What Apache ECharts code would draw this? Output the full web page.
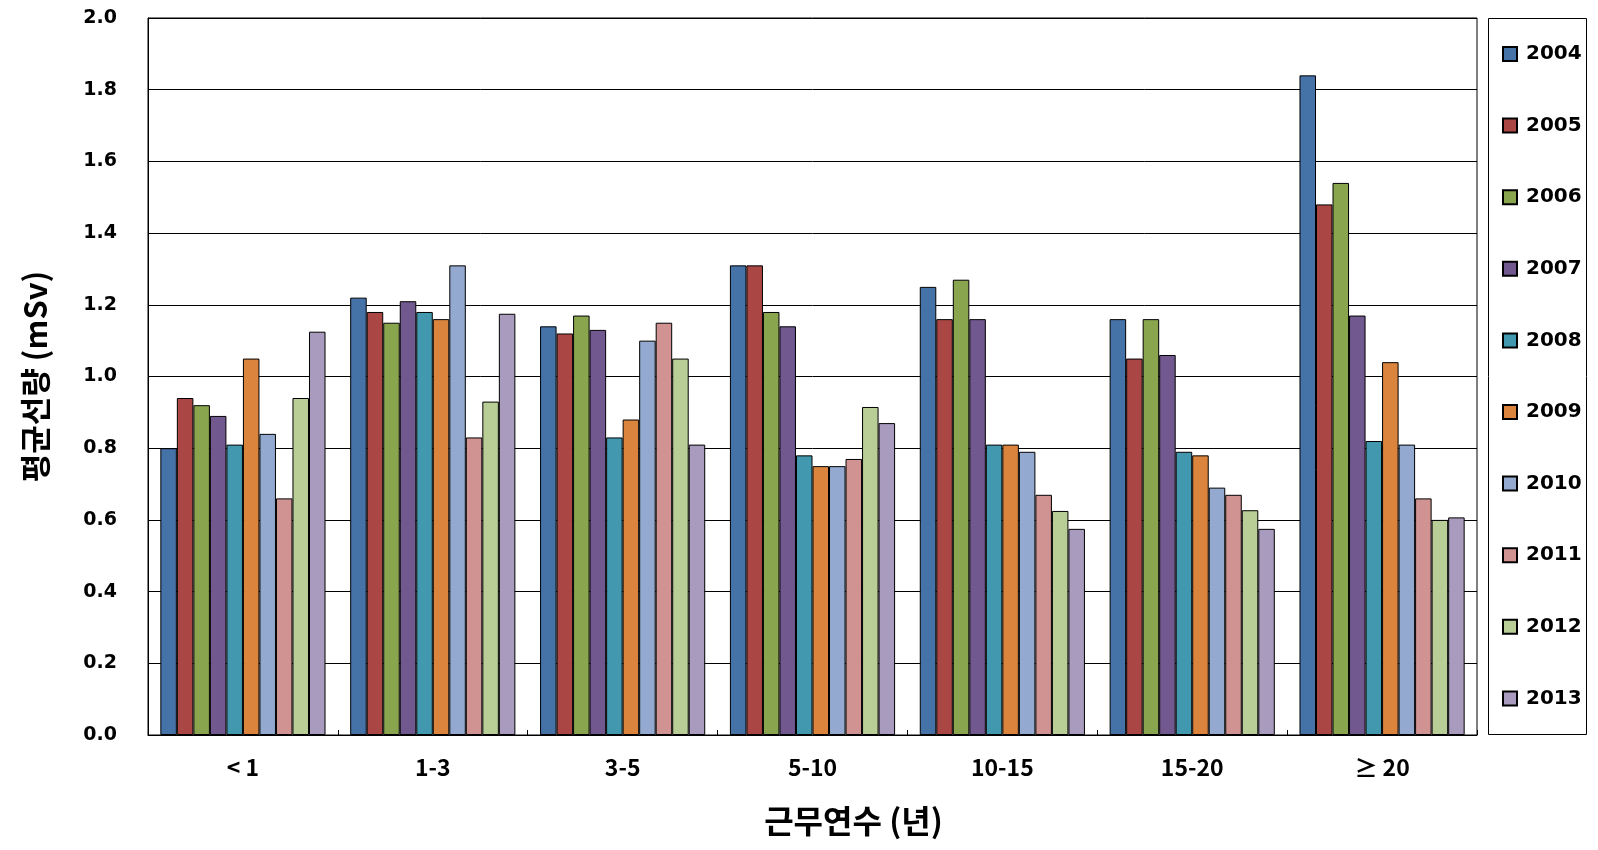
<!DOCTYPE html>
<html>
<head>
<meta charset="utf-8">
<script src="https://cdn.jsdelivr.net/npm/echarts@6/dist/echarts.min.js"></script>
<style>html,body{margin:0;padding:0;background:#fff}#c{width:1598px;height:850px}</style>
</head>
<body>
<div id="c"></div>
<script>
const categories = ['< 1', '1-3', '3-5', '5-10', '10-15', '15-20', '≥ 20'];
const years = ['2004','2005','2006','2007','2008','2009','2010','2011','2012','2013'];
const v2004 = [0.80, 1.22, 1.14, 1.31, 1.25, 1.16, 1.84];
const v2005 = [0.94, 1.18, 1.12, 1.31, 1.16, 1.05, 1.48];
const v2006 = [0.92, 1.15, 1.17, 1.18, 1.27, 1.16, 1.54];
const v2007 = [0.89, 1.21, 1.13, 1.14, 1.16, 1.06, 1.17];
const v2008 = [0.81, 1.18, 0.83, 0.78, 0.81, 0.79, 0.82];
const v2009 = [1.05, 1.16, 0.88, 0.75, 0.81, 0.78, 1.04];
const v2010 = [0.84, 1.31, 1.10, 0.75, 0.79, 0.69, 0.81];
const v2011 = [0.66, 0.83, 1.15, 0.77, 0.67, 0.67, 0.66];
const v2012 = [0.94, 0.93, 1.05, 0.915, 0.625, 0.627, 0.60];
const v2013 = [1.125, 1.175, 0.81, 0.87, 0.575, 0.575, 0.607];
const yTicks = ['0.0','0.2','0.4','0.6','0.8','1.0','1.2','1.4','1.6','1.8','2.0'];
const seriesValues = [v2004, v2005, v2006, v2007, v2008, v2009, v2010, v2011, v2012, v2013];
const colors = ['#4572A7','#AA4643','#89A54E','#71588F','#4198AF','#DB843D','#93A9CF','#D19392','#B9CD96','#A99BBD'];

const chart = echarts.init(document.getElementById('c'), null, {renderer: 'canvas'});
const option = {
  backgroundColor: '#fff',
  animation: false,
  color: colors,
  grid: {left: 148, right: 121, top: 18, bottom: 115, show: true, borderColor: '#000', borderWidth: 1, backgroundColor: 'transparent'},
  legend: {
    orient: 'vertical', left: 1502, top: 44,
    itemWidth: 14, itemHeight: 14, itemGap: 51.6, padding: 0,
    icon: 'rect',
    textStyle: {fontFamily: 'DejaVu Sans', fontWeight: 'bold', fontSize: 20, color: '#000', lineHeight: 20, padding: [0,0,0,4]},
    data: years
  },
  graphic: [{type: 'rect', shape: {x: 1488.5, y: 18.5, width: 98, height: 716}, style: {fill: 'none', stroke: '#000', lineWidth: 1}, silent: true, z: 100}],
  xAxis: {
    type: 'category', data: categories,
    axisLine: {lineStyle: {color: '#000', width: 1}},
    axisTick: {show: true, inside: true, length: 5, lineStyle: {color: '#000'}},
    axisLabel: {margin: 21, color: '#000', fontFamily: 'Noto Sans CJK KR', fontWeight: 'bold', fontSize: 23},
    name: '근무연수 (년)', nameLocation: 'middle', nameGap: 70,
    nameTextStyle: {color: '#000', fontFamily: 'Noto Sans CJK KR', fontSize: 32, fontWeight: 'bold', padding: [0,0,0,82]}
  },
  yAxis: {
    type: 'value', min: 0, max: 2, interval: 0.2,
    axisLine: {show: true, lineStyle: {color: '#000'}},
    axisTick: {show: false},
    splitLine: {show: true, lineStyle: {color: '#000', width: 1}},
    axisLabel: {margin: 31, color: '#000', fontFamily: 'DejaVu Sans', fontWeight: 'bold', fontSize: 19,
      formatter: function (v) { return yTicks[Math.round(v / 0.2)]; }},
    name: '평균선량 (mSv)', nameLocation: 'middle', nameGap: 97,
    nameTextStyle: {color: '#000', fontFamily: 'Noto Sans CJK KR', fontSize: 31, fontWeight: 'bold'}
  },
  series: years.map((y, i) => ({
    name: y, type: 'bar', data: seriesValues[i],
    barGap: '0%', barCategoryGap: '13%',
    itemStyle: {color: colors[i], borderColor: '#000', borderWidth: 1}
  }))
};
chart.setOption(option);
</script>
</body>
</html>
